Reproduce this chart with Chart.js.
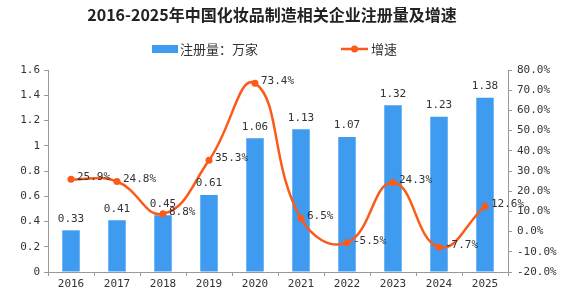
<!DOCTYPE html>
<html>
<head>
<meta charset="utf-8">
<script src="https://cdn.jsdelivr.net/npm/chart.js@4/dist/chart.umd.min.js"></script>
<style>
  html, body { margin: 0; padding: 0; background: #fff; }
  #wrap { width: 565px; height: 296px; position: relative; }
</style>
</head>
<body>
<div id="wrap"><canvas id="chart"></canvas></div>
<script>
// data
const years = ['2016', '2017', '2018', '2019', '2020', '2021', '2022', '2023', '2024', '2025'];
const registrations = [0.33, 0.41, 0.45, 0.61, 1.06, 1.13, 1.07, 1.32, 1.23, 1.38];
const growth = [25.9, 24.8, 8.8, 35.3, 73.4, 6.5, -5.5, 24.3, -7.7, 12.6];

const titleText = '2016-2025年中国化妆品制造相关企业注册量及增速';
const barLabel = '注册量：万家';
const lineLabel = '增速';

const barColor = '#3e9bf0';
const lineColor = '#fb5a1b';
const numFont = '"DejaVu Sans Mono", monospace';
const cjkFont = '"Noto Sans CJK SC", sans-serif';

// labels + title + legend drawn on top of the chart
const decor = {
  id: 'decor',
  afterDatasetsDraw(chart) {
    const ctx = chart.ctx;
    ctx.save();
    ctx.fillStyle = '#333';
    ctx.font = '11px ' + numFont;
    ctx.textAlign = 'center';
    ctx.textBaseline = 'bottom';
    chart.getDatasetMeta(1).data.forEach((bar, i) => {
      ctx.fillText(registrations[i].toFixed(2), bar.x, bar.y - 6);
    });
    ctx.textAlign = 'left';
    ctx.textBaseline = 'middle';
    chart.getDatasetMeta(0).data.forEach((pt, i) => {
      ctx.fillText(growth[i].toFixed(1) + '%', pt.x + 6, pt.y - 2);
    });

    // title
    ctx.fillStyle = '#222';
    ctx.font = 'bold 16px ' + cjkFont;
    ctx.textAlign = 'center';
    ctx.fillText(titleText, 272, 15);

    // legend
    ctx.fillStyle = barColor;
    ctx.fillRect(152, 45, 26, 8);
    ctx.fillStyle = '#333';
    ctx.font = '13px ' + cjkFont;
    ctx.textAlign = 'left';
    ctx.fillText(barLabel, 180, 49);
    ctx.strokeStyle = lineColor;
    ctx.lineWidth = 2.5;
    ctx.beginPath();
    ctx.moveTo(341, 49);
    ctx.lineTo(368, 49);
    ctx.stroke();
    ctx.fillStyle = lineColor;
    ctx.beginPath();
    ctx.arc(354.5, 49, 3.5, 0, Math.PI * 2);
    ctx.fill();
    ctx.fillStyle = '#333';
    ctx.fillText(lineLabel, 371, 49);
    ctx.restore();
  }
};

const ctx = document.getElementById('chart').getContext('2d');
new Chart(ctx, {
  data: {
    labels: years,
    datasets: [
      {
        type: 'line',
        label: lineLabel,
        data: growth,
        yAxisID: 'y1',
        borderColor: lineColor,
        backgroundColor: lineColor,
        borderWidth: 2.5,
        pointRadius: 3.5,
        pointBackgroundColor: lineColor,
        pointBorderWidth: 0,
        tension: 0.45,
        order: 0
      },
      {
        type: 'bar',
        label: barLabel,
        data: registrations,
        yAxisID: 'y',
        backgroundColor: barColor,
        barPercentage: 0.38,
        categoryPercentage: 1,
        order: 1
      }
    ]
  },
  options: {
    responsive: true,
    maintainAspectRatio: false,
    animation: false,
    layout: { padding: { top: 70, left: 0, right: 0, bottom: 0 } },
    plugins: {
      legend: { display: false },
      title: { display: false },
      tooltip: { enabled: false }
    },
    scales: {
      x: {
        grid: { display: true, drawOnChartArea: false, offset: true, tickLength: 4, color: '#999' },
        border: { color: '#999' },
        ticks: { color: '#333', font: { family: numFont, size: 11 }, padding: 2 },
        afterFit(scale) { scale.height = 24; }
      },
      y: {
        position: 'left',
        min: 0, max: 1.6,
        grid: { drawOnChartArea: false, tickLength: 4, color: '#999' },
        border: { color: '#999' },
        ticks: {
          stepSize: 0.2, color: '#333', padding: 4,
          font: { family: numFont, size: 11 },
          callback: v => parseFloat(v.toFixed(1)).toString()
        },
        afterFit(scale) { scale.width = 48; }
      },
      y1: {
        position: 'right',
        min: -20, max: 80,
        grid: { drawOnChartArea: false, tickLength: 4, color: '#999' },
        border: { color: '#999' },
        ticks: {
          stepSize: 10, color: '#333', padding: 5,
          font: { family: numFont, size: 11 },
          callback: v => v.toFixed(1) + '%'
        },
        afterFit(scale) { scale.width = 57; }
      }
    }
  },
  plugins: [decor]
});
</script>
</body>
</html>
